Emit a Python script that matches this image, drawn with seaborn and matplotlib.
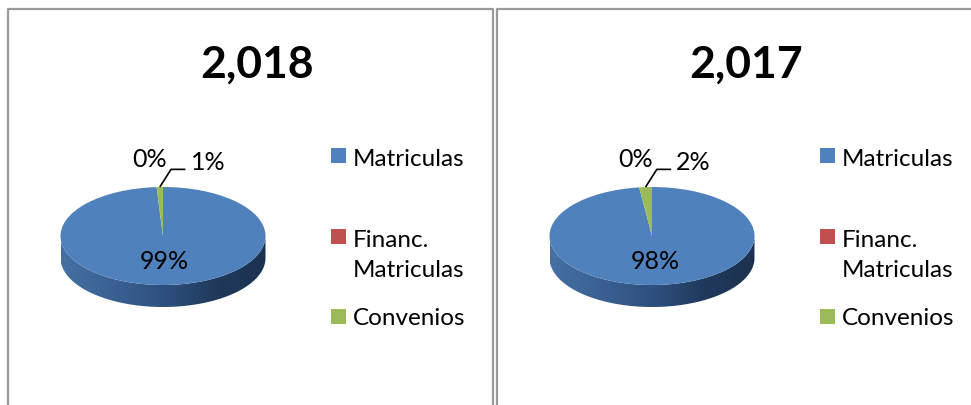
import numpy as np
import seaborn as sns
import matplotlib.pyplot as plt
from matplotlib.patches import Polygon, Rectangle
from matplotlib.colors import LinearSegmentedColormap
from matplotlib.lines import Line2D

# Data
categories = ["Matriculas", "Financ.\nMatriculas", "Convenios"]
years = ["2,018", "2,017"]
values_2018 = [99, 0, 1]
values_2017 = [98, 0, 2]
colors = ["#4F81BD", "#C0504D", "#9BBB59"]

sns.set_theme(style="white")
plt.rcParams["font.family"] = ["Lato", "DejaVu Sans"]

W, H = 971, 406
fig = plt.figure(figsize=(W / 100, H / 100), dpi=100)
fig.patch.set_facecolor("white")


def fx(x):
    return x / W


def fy(y):
    return 1 - y / H


# panel frames (in pixel coordinates of the figure)
for pts in ([(8, 406), (8, 10), (493, 10), (493, 406)],
            [(497, 406), (497, 10), (971, 10)]):
    xs = [fx(p[0]) for p in pts]
    ys = [fy(p[1]) for p in pts]
    fig.add_artist(Line2D(xs, ys, color="#9a9a9a", lw=1.6))

side_cmap = LinearSegmentedColormap.from_list(
    "side", ["#4670a3", "#3a6192", "#2e5080", "#203a5c", "#1b3150"])


def draw_panel(x0, title, values):
    # x0 = left edge of panel in px
    cx, cy = x0 + 155, 237          # pie centre in px
    rx, ry, depth = 102.5, 49, 22   # pie radii / thickness in px
    left, right, top, bottom = cx - 125, cx + 130, 135, 345
    ax = fig.add_axes([fx(left), fy(bottom), (right - left) / W, (bottom - top) / H])
    ax.set_facecolor("none")

    total = sum(values)
    wedges, _ = ax.pie(values, colors=colors, startangle=90, counterclock=False,
                       radius=1, wedgeprops=dict(linewidth=0, zorder=3))
    d = depth / ry

    # cylinder side (front half) with gradient
    t = np.linspace(np.pi, 2 * np.pi, 200)
    top_arc = np.column_stack([np.cos(t), np.sin(t)])
    bot_arc = np.column_stack([np.cos(t[::-1]), np.sin(t[::-1]) - d])
    side = Polygon(np.vstack([top_arc, bot_arc]), closed=True,
                   facecolor="none", edgecolor="none", zorder=2)
    ax.add_patch(side)
    grad = np.linspace(0, 1, 256).reshape(1, -1)
    im = ax.imshow(grad, cmap=side_cmap, extent=[-1, 1, -1 - d, 0],
                   aspect="auto", zorder=2)
    im.set_clip_path(side)

    ax.set_aspect("auto")
    ax.set_xlim((left - cx) / rx, (right - cx) / rx)
    ax.set_ylim((cy - bottom) / ry, (cy - top) / ry)
    ax.axis("off")

    # percentage labels
    for w, v in zip(wedges, values):
        pct = f"{v / total * 100:.0f}%"
        mid = np.deg2rad((w.theta1 + w.theta2) / 2)
        if v / total > 0.5:
            ax.text(0.5 * np.cos(mid), 0.5 * np.sin(mid), pct, ha="center",
                    va="center", fontsize=18, color="black", zorder=5)

    # small slices: 0% without leader, the other with a leader line
    small = [(w, v) for w, v in zip(wedges, values) if v / total <= 0.5]
    lead = [p for p in small if p[1] > 0]
    anchor_x = np.cos(np.deg2rad((lead[0][0].theta1 + lead[0][0].theta2) / 2)) if lead else 0
    ex, ey = anchor_x + 0.11, 1.36
    for w, v in small:
        pct = f"{v / total * 100:.0f}%"
        if v > 0:
            mid = np.deg2rad((w.theta1 + w.theta2) / 2)
            ax.plot([np.cos(mid), ex, ex + 0.14], [np.sin(mid), ey, ey],
                    color="black", lw=1.2, zorder=5, solid_capstyle="butt")
            ax.text(ex + 0.19, ey + 0.16, pct, ha="left", va="center",
                    fontsize=18, color="black", zorder=5)
        else:
            ax.text(ex - 0.04, ey + 0.22, pct, ha="right", va="center",
                    fontsize=18, color="black", zorder=5)

    # title
    fig.text(fx(x0 + 249), fy(78), title, ha="center", va="baseline",
             fontsize=32, fontweight="bold", color="black")

    # legend (baseline = baseline of the last line of each label)
    sq_x = x0 + 323
    sq_centres = [156, 237.5, 317]
    baselines = [166, 277, 325]
    for c, lab, yc, yb in zip(colors, categories, sq_centres, baselines):
        fig.add_artist(Rectangle((fx(sq_x), fy(yc + 7.5)), 14.5 / W, 15 / H,
                                 facecolor=c, edgecolor="none",
                                 transform=fig.transFigure))
        fig.text(fx(sq_x + 22), fy(yb), lab, ha="left", va="baseline",
                 fontsize=17.5, color="black", linespacing=1.55)


draw_panel(8, years[0], values_2018)
draw_panel(497, years[1], values_2017)

fig.savefig("out.png", dpi=100)
